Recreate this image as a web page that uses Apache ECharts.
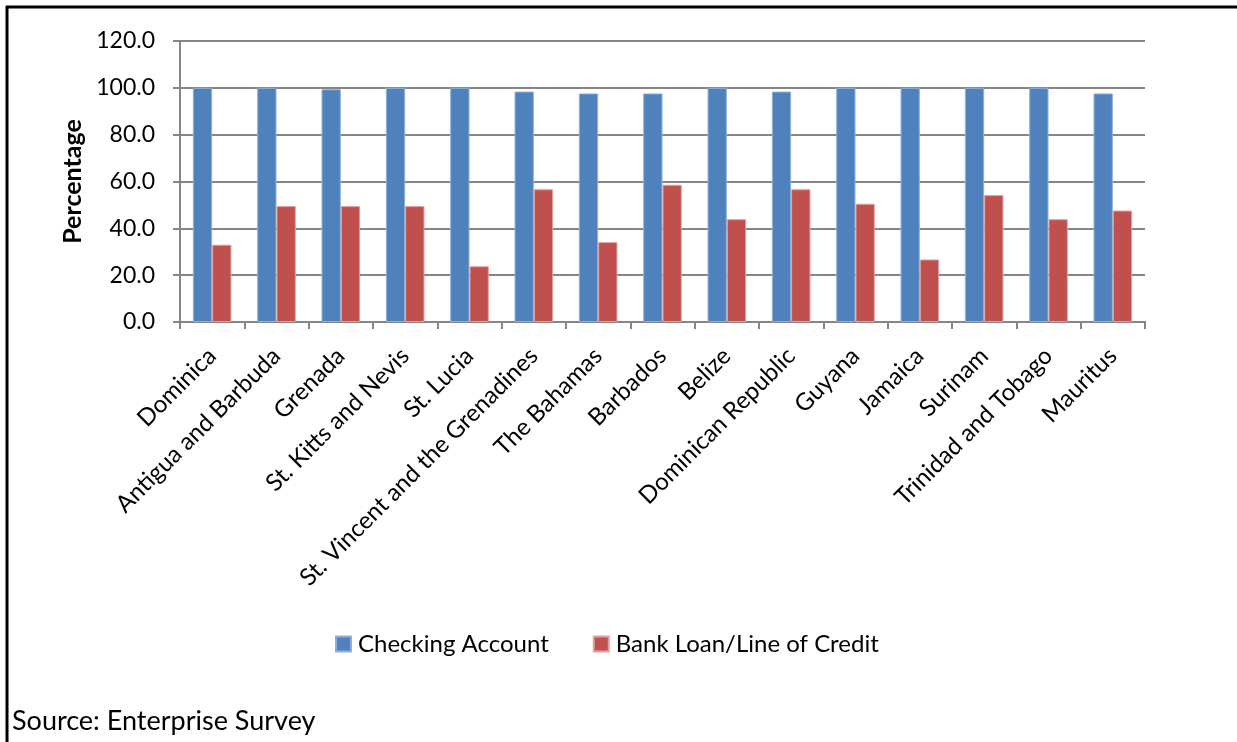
<!DOCTYPE html>
<html>
<head>
<meta charset="utf-8">
<script src="https://cdn.jsdelivr.net/npm/echarts@6/dist/echarts.min.js"></script>
<style>
html,body{margin:0;padding:0;background:#fff;}
#chart{width:1237px;height:742px;}
</style>
</head>
<body>
<div id="chart"></div>
<script>
const categories = ['Dominica','Antigua and Barbuda','Grenada','St. Kitts and Nevis','St. Lucia','St. Vincent and the Grenadines','The Bahamas','Barbados','Belize','Dominican Republic','Guyana','Jamaica','Surinam','Trinidad and Tobago','Mauritus'];
const checkingAccount = [100,100,99.4,100,100,98.4,97.6,97.6,100,98.4,100,100,100,100,97.6];
const bankLoan = [33.0,49.5,49.5,49.5,23.8,56.7,34.1,58.6,43.9,56.7,50.5,26.7,54.2,43.9,47.6];
const seriesNames = ['Checking Account','Bank Loan/Line of Credit'];
const sourceText = 'Source: Enterprise Survey';

const FONT = 'Lato';
const chart = echarts.init(document.getElementById('chart'), null, {renderer:'canvas'});
chart.setOption({
  animation:false,
  backgroundColor:'#fff',
  textStyle:{fontFamily:FONT,color:'#000'},
  grid:{left:180,right:92,top:41,bottom:420,containLabel:false},
  legend:{
    data:seriesNames,
    left:330, top:627,
    icon:'rect', itemWidth:15, itemHeight:15, itemGap:44,
    textStyle:{fontFamily:FONT,fontSize:24,color:'#000',padding:[0,0,0,2]}
  },
  xAxis:{
    type:'category', data:categories,
    axisLine:{lineStyle:{color:'#868686',width:2}},
    axisTick:{show:true,length:7,lineStyle:{color:'#868686',width:2}},
    axisLabel:{rotate:45,interval:0,margin:30,fontFamily:FONT,fontSize:24,color:'#000'}
  },
  yAxis:{
    type:'value', min:0, max:120, interval:20,
    name:'Percentage', nameLocation:'middle', nameGap:95, nameRotate:90,
    nameTextStyle:{fontFamily:FONT,fontSize:25,fontWeight:'bold',color:'#000'},
    axisLine:{show:true,lineStyle:{color:'#868686',width:2}},
    axisTick:{show:true,length:7,lineStyle:{color:'#868686',width:2}},
    axisLabel:{margin:25,fontFamily:FONT,fontSize:23,color:'#000',formatter:v=>v.toFixed(1)},
    splitLine:{lineStyle:{color:'#868686',width:2}}
  },
  series:[
    {name:seriesNames[0],type:'bar',data:checkingAccount,barGap:'0%',barCategoryGap:'40%',
     itemStyle:{color:'#4F81BD',borderColor:'#8EB0DA',borderWidth:1}},
    {name:seriesNames[1],type:'bar',data:bankLoan,
     itemStyle:{color:'#C0504D',borderColor:'#E0A09E',borderWidth:1}}
  ],
  graphic:[
    {type:'line',shape:{x1:6,y1:7,x2:1237,y2:7},style:{stroke:'#000',lineWidth:3}},
    {type:'line',shape:{x1:7,y1:6,x2:7,y2:742},style:{stroke:'#000',lineWidth:3}},
    {type:'text',left:12,top:708,style:{text:sourceText,font:'27px '+FONT,fill:'#000'}}
  ]
});
</script>
</body>
</html>
